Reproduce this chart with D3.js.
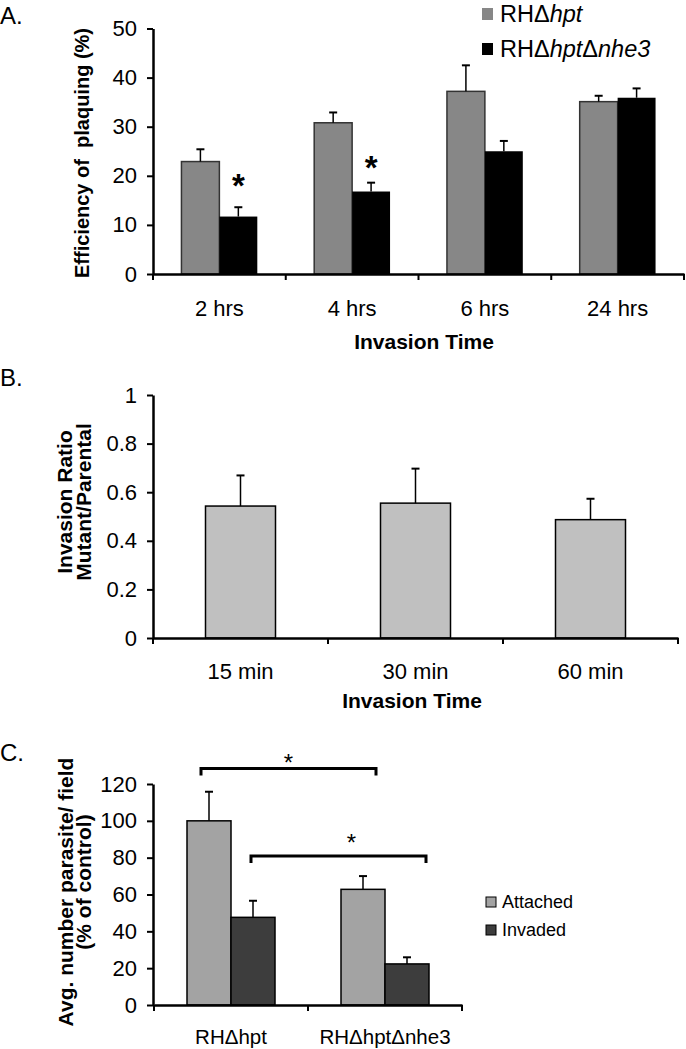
<!DOCTYPE html>
<html lang="en">
<head>
<meta charset="utf-8">
<title>Plaquing, invasion and attachment</title>
<script src="https://d3js.org/d3.v7.min.js"></script>
<style>
  body { margin: 0; background: #fff; }
  svg text { font-family: "Liberation Sans", Arial, sans-serif; fill: #000; }
  .tick text { font-size: 22px; }
  .axis path, .axis line { stroke: #000; }
  .title { font-weight: bold; font-size: 21px; white-space: pre; }
  .panel-label { font-size: 24px; }
</style>
</head>
<body>
<div id="chart"></div>
<script>
"use strict"

// A. efficiency of plaquing
var hoursA = ["2 hrs", "4 hrs", "6 hrs", "24 hrs"];
var strainsA = ["RHΔhpt", "RHΔhptΔnhe3"];
var parentalA = [22.9, 30.8, 37.2, 35.1];
var parentalErrA = [2.5, 2.1, 5.3, 1.2];
var mutantA = [11.7, 16.8, 25.0, 35.9];
var mutantErrA = [1.9, 1.8, 2.1, 1.9];
var starsA = [19.5, 23.3, null, null];
var ticksA = [0, 10, 20, 30, 40, 50];

// B. invasion ratio
var minutesB = ["15 min", "30 min", "60 min"];
var ratioB = [0.543, 0.555, 0.487];
var ratioErrB = [0.126, 0.142, 0.086];
var ticksB = [0, 0.2, 0.4, 0.6, 0.8, 1];

// C. attached / invaded
var strainsC = ["RHΔhpt", "RHΔhptΔnhe3"];
var seriesC = ["Attached", "Invaded"];
var attachedC = [100, 62.8];
var attachedErrC = [15.8, 7.2];
var invadedC = [47.6, 22.3];
var invadedErrC = [9.0, 3.6];
var bracketsC = [{series: "Attached", y: 128.4, star: 134.7}, {series: "Invaded", y: 80.9, star: 91}];
var ticksC = [0, 20, 40, 60, 80, 100, 120];

var svg = d3.select('#chart').append('svg')
  .attr('width', 686).attr('height', 1049);

function yAxis(y, ticks, left, fmt) {
  var g = svg.append('g').attr('class', 'axis')
    .attr('transform', 'translate(' + left + ',0)')
    .call(d3.axisLeft(y).tickValues(ticks).tickSize(6).tickSizeOuter(0).tickPadding(10).tickFormat(fmt || d3.format('d')));
  g.select('.domain').attr('stroke-width', 2.5);
  g.selectAll('.tick line').attr('stroke-width', 2);
  return g;
}

function xAxis(x, base, pad) {
  var g = svg.append('g').attr('class', 'axis')
    .attr('transform', 'translate(0,' + base + ')')
    .call(d3.axisBottom(x).tickSize(0).tickPadding(pad));
  g.select('.domain').attr('stroke-width', 2.5);
  // excel style ticks between categories
  var edges = [x.range()[0]].concat(x.domain().map(d => x(d) + x.step()));
  g.selectAll('.edge').data(edges).enter().append('line')
    .attr('x1', d => d).attr('x2', d => d)
    .attr('y1', 0).attr('y2', 6)
    .attr('stroke', '#000').attr('stroke-width', 2);
  return g;
}

function errBars(data, xc, yv, ye, y) {
  var g = svg.append('g');
  data.forEach(function(d, i) {
    var cx = xc(d, i), top = y(yv[i] + ye[i]);
    g.append('line').attr('x1', cx).attr('x2', cx)
      .attr('y1', y(yv[i])).attr('y2', top)
      .attr('stroke', '#000').attr('stroke-width', 1.5);
    g.append('line').attr('x1', cx - 4).attr('x2', cx + 4)
      .attr('y1', top).attr('y2', top)
      .attr('stroke', '#000').attr('stroke-width', 2);
  });
}

function strainLabel(sel, label, italic) {
  var parts = label.split('Δ');
  sel.append('tspan').text(parts[0]);
  parts.slice(1).forEach(function(p) {
    sel.append('tspan').text('Δ');
    sel.append('tspan').text(p).style('font-style', italic ? 'italic' : 'normal');
  });
}

/*
 * A
 */
var xA = d3.scaleBand().domain(hoursA).range([153, 684]);
var x1A = d3.scaleBand().domain(strainsA).range([0, xA.bandwidth()]).paddingOuter(0.75);
var yA = d3.scaleLinear().domain([0, 50]).range([274, 28.5]);
var colorA = {"RHΔhpt": "#878787", "RHΔhptΔnhe3": "#000"};

svg.append('g').selectAll('rect').data(hoursA).enter().append('rect')
  .attr('x', d => xA(d) + x1A(strainsA[0]))
  .attr('width', x1A.bandwidth())
  .attr('y', (d, i) => yA(parentalA[i]))
  .attr('height', (d, i) => yA(0) - yA(parentalA[i]))
  .attr('fill', colorA[strainsA[0]]).attr('stroke', '#333').attr('stroke-width', 1.5);
svg.append('g').selectAll('rect').data(hoursA).enter().append('rect')
  .attr('x', d => xA(d) + x1A(strainsA[1]))
  .attr('width', x1A.bandwidth())
  .attr('y', (d, i) => yA(mutantA[i]))
  .attr('height', (d, i) => yA(0) - yA(mutantA[i]))
  .attr('fill', colorA[strainsA[1]]);
errBars(hoursA, d => xA(d) + x1A(strainsA[0]) + x1A.bandwidth() / 2, parentalA, parentalErrA, yA);
errBars(hoursA, d => xA(d) + x1A(strainsA[1]) + x1A.bandwidth() / 2, mutantA, mutantErrA, yA);

svg.append('g').selectAll('text').data(hoursA.filter((d, i) => starsA[i] != null)).enter().append('text')
  .attr('x', d => xA(d) + x1A(strainsA[1]) + x1A.bandwidth() / 2)
  .attr('y', d => yA(starsA[hoursA.indexOf(d)]) + 19)
  .attr('text-anchor', 'middle').style('font-size', '33px').style('font-weight', 'bold')
  .text('*');

yAxis(yA, ticksA, 153);
xAxis(xA, 274, 26);
svg.append('text').attr('class', 'title').attr('text-anchor', 'middle')
  .attr('x', 424).attr('y', 349).text('Invasion Time');
svg.append('text').attr('class', 'title').attr('text-anchor', 'middle')
  .style('font-size', '20px')
  .attr('transform', 'translate(89,153) rotate(-90)').text('Efficiency of  plaquing (%)');
svg.append('text').attr('class', 'panel-label').attr('x', 0).attr('y', 24).text('A.');

var legA = svg.append('g').selectAll('g').data(strainsA).enter().append('g')
  .attr('transform', (d, i) => 'translate(482,' + (8 + i * 35) + ')');
legA.append('rect').attr('width', 11).attr('height', 12).attr('fill', d => colorA[d]);
legA.append('text').attr('x', 18).attr('y', 14).style('font-size', '23.5px')
  .each(function(d) { strainLabel(d3.select(this), d, true); });

/*
 * B
 */
var xB = d3.scaleBand().domain(minutesB).range([153, 678]).paddingInner(0.6).paddingOuter(0.3);
var yB = d3.scaleLinear().domain([0, 1]).range([638, 395]);

svg.append('g').selectAll('rect').data(minutesB).enter().append('rect')
  .attr('x', d => xB(d))
  .attr('width', xB.bandwidth())
  .attr('y', (d, i) => yB(ratioB[i]))
  .attr('height', (d, i) => yB(0) - yB(ratioB[i]))
  .attr('fill', '#c0c0c0').attr('stroke', '#000').attr('stroke-width', 1.5);
errBars(minutesB, d => xB(d) + xB.bandwidth() / 2, ratioB, ratioErrB, yB);

yAxis(yB, ticksB, 153, d => d === 0 || d === 1 ? d3.format('d')(d) : d3.format('.1f')(d));
xAxis(d3.scaleBand().domain(minutesB).range([153, 678]), 638, 25);
svg.append('text').attr('class', 'title').attr('text-anchor', 'middle')
  .attr('x', 412).attr('y', 708).text('Invasion Time');
svg.append('text').attr('class', 'title').attr('text-anchor', 'middle')
  .attr('transform', 'translate(72,502) rotate(-90)').text('Invasion Ratio');
svg.append('text').attr('class', 'title').attr('text-anchor', 'middle')
  .attr('transform', 'translate(91,502) rotate(-90)').text('Mutant/Parental');
svg.append('text').attr('class', 'panel-label').attr('x', 0).attr('y', 386).text('B.');

/*
 * C
 */
var xC = d3.scaleBand().domain(strainsC).range([154, 462]);
var x1C = d3.scaleBand().domain(seriesC).range([0, xC.bandwidth()]).paddingOuter(0.75);
var yC = d3.scaleLinear().domain([0, 120]).range([1005, 784]);
var colorC = {"Attached": "#a3a3a3", "Invaded": "#3d3d3d"};
var valuesC = {"Attached": attachedC, "Invaded": invadedC};
var errC = {"Attached": attachedErrC, "Invaded": invadedErrC};

seriesC.forEach(function(s) {
  svg.append('g').selectAll('rect').data(strainsC).enter().append('rect')
    .attr('x', d => xC(d) + x1C(s))
    .attr('width', x1C.bandwidth())
    .attr('y', (d, i) => yC(valuesC[s][i]))
    .attr('height', (d, i) => yC(0) - yC(valuesC[s][i]))
    .attr('fill', colorC[s]).attr('stroke', '#000').attr('stroke-width', 1.5);
  errBars(strainsC, d => xC(d) + x1C(s) + x1C.bandwidth() / 2, valuesC[s], errC[s], yC);
});

// significance brackets
var bracketOff = {"Attached": [14, 35, 0], "Invaded": [20, 41, 13]};
bracketsC.forEach(function(b) {
  var o = bracketOff[b.series];
  var x0 = xC(strainsC[0]) + x1C(b.series) + o[0];
  var x1 = xC(strainsC[1]) + x1C(b.series) + o[1];
  var yy = yC(b.y);
  svg.append('path')
    .attr('d', 'M' + x0 + ',' + (yy + 7) + 'V' + yy + 'H' + x1 + 'V' + (yy + 7))
    .attr('fill', 'none').attr('stroke', '#000').attr('stroke-width', 3);
  svg.append('text').attr('text-anchor', 'middle')
    .attr('x', (x0 + x1) / 2 + o[2]).attr('y', yC(b.star) + 14)
    .style('font-size', '24px').text('*');
});

yAxis(yC, ticksC, 153);
var axC = xAxis(xC, 1005, 24);
axC.selectAll('.tick text').style('font-size', '20.5px').text('')
  .each(function(d) { strainLabel(d3.select(this), d, false); });
svg.append('text').attr('class', 'title').attr('text-anchor', 'middle')
  .attr('transform', 'translate(73,892) rotate(-90)').text('Avg. number parasite/ field');
svg.append('text').attr('class', 'title').attr('text-anchor', 'middle')
  .attr('transform', 'translate(91,882) rotate(-90)').text('(% of control)');
svg.append('text').attr('class', 'panel-label').attr('x', 0).attr('y', 761).text('C.');

var legC = svg.append('g').selectAll('g').data(seriesC).enter().append('g')
  .attr('transform', (d, i) => 'translate(486,' + (897 + i * 28) + ')');
legC.append('rect').attr('width', 10).attr('height', 10)
  .attr('fill', d => colorC[d]).attr('stroke', '#000').attr('stroke-width', 1);
legC.append('text').attr('x', 16).attr('y', 11).style('font-size', '18px').text(d => d);
</script>
</body>
</html>
